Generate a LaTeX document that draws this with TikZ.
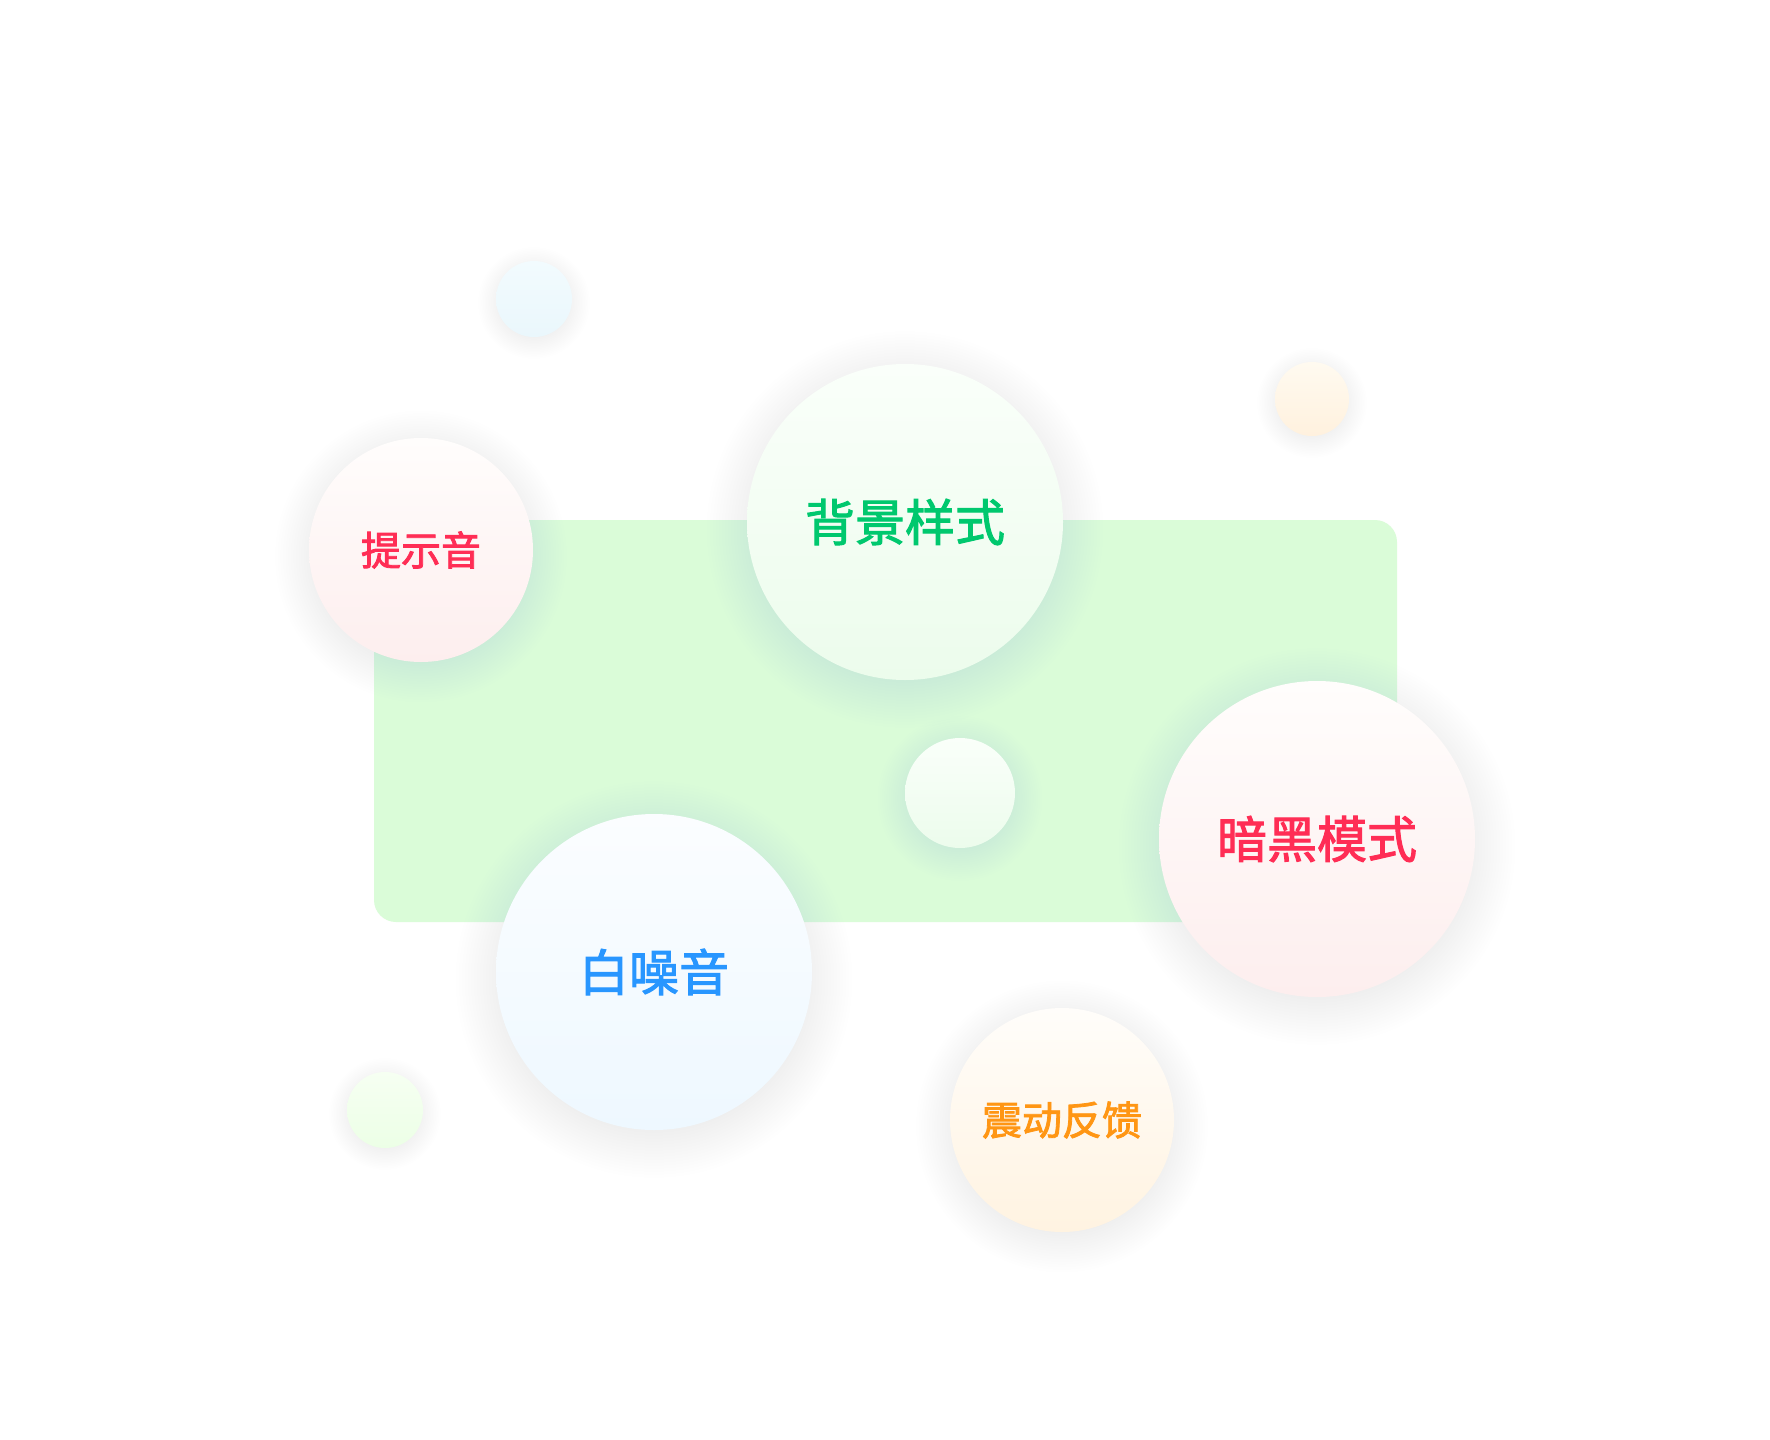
\documentclass[tikz,border=0pt]{standalone}
\usepackage{fontspec}
\usetikzlibrary{positioning, calc, backgrounds}
\newfontfamily\cjk{Noto Sans CJK SC}[FakeBold=2]
\definecolor{panelgreen}{RGB}{218, 252, 216}
\definecolor{shadowblue}{RGB}{190, 204, 230}
\definecolor{textgreen}{RGB}{0, 200, 110}
\definecolor{textred}{RGB}{255, 45, 85}
\definecolor{textblue}{RGB}{40, 150, 255}
\definecolor{textorange}{RGB}{255, 150, 20}
\definecolor{greentop}{RGB}{250, 255, 250}
\definecolor{greenbot}{RGB}{236, 252, 236}
\definecolor{pinktop}{RGB}{255, 253, 252}
\definecolor{pinkbot}{RGB}{253, 238, 238}
\definecolor{bluetop}{RGB}{251, 253, 255}
\definecolor{bluebot}{RGB}{238, 248, 255}
\definecolor{orangetop}{RGB}{255, 253, 250}
\definecolor{orangebot}{RGB}{255, 243, 225}
\definecolor{dotblue}{RGB}{242, 251, 254}
\definecolor{dotblueb}{RGB}{234, 247, 252}
\definecolor{dotorange}{RGB}{255, 250, 240}
\definecolor{dotorangeb}{RGB}{255, 241, 222}
\definecolor{dotgreen}{RGB}{246, 255, 242}
\definecolor{dotgreenb}{RGB}{236, 255, 230}

\begin{document}
\begin{tikzpicture}[
    x=1pt, y=-1pt, % pixel units, y pointing down
    bubble/.style 2 args={ % round tile, takes size and colour pair
        circle,
        minimum size=#1,
        inner sep=0pt,
        draw=none,
        top color=#2top,
        bottom color=#2bot
    },
    % label font sizes
    bigtext/.style={font=\cjk\fontsize{50}{60}\selectfont, text=#1},
    smalltext/.style={font=\cjk\fontsize{40}{48}\selectfont, text=#1},
    soft/.style={fill=shadowblue, opacity=0.009}
]

% canvas
\useasboundingbox (0,0) rectangle (1770,1440);

% big circles
\node[bubble={316pt}{green}, bigtext=textgreen] (style) at (905,522) {背景样式};
\node[bubble={316pt}{pink}, bigtext=textred] (dark) at (1317,839) {暗黑模式};
\node[bubble={316pt}{blue}, bigtext=textblue] (noise) at (654,972) {白噪音};

% smaller circles
\node[bubble={224pt}{pink}, smalltext=textred] (tone) at (421,550) {提示音};
\node[bubble={224pt}{orange}, smalltext=textorange] (vibe) at (1062,1120) {震动反馈};
\node[bubble={110pt}{green}] (dot) at (960,793) {};

% tiny dots
\node[circle, minimum size=76pt, top color=dotblue, bottom color=dotblueb] (dotA) at (534,299) {};
\node[circle, minimum size=74pt, top color=dotorange, bottom color=dotorangeb] (dotB) at (1312,399) {};
\node[circle, minimum size=76pt, top color=dotgreen, bottom color=dotgreenb] (dotC) at (385,1110) {};

% white canvas, panel and soft shadows behind
\begin{pgfonlayer}{background}
    \fill[white] (0,0) rectangle (1770,1440);
    \fill[panelgreen, rounded corners=22pt] (374,520) rectangle (1397,922);
    \foreach \n/\r/\s in {style/158/3, dark/158/3, noise/158/3, tone/112/2.6, vibe/112/2.6, dot/55/2.2, dotA/38/1.6, dotB/37/1.6, dotC/38/1.6} {
        \foreach \k in {1,...,16} {
            \fill[soft] ($(\n.center)+(0,2.5*\s)$) circle[radius=\r+\s*\k-8];
        }
    }
\end{pgfonlayer}

\end{tikzpicture}
\end{document}
